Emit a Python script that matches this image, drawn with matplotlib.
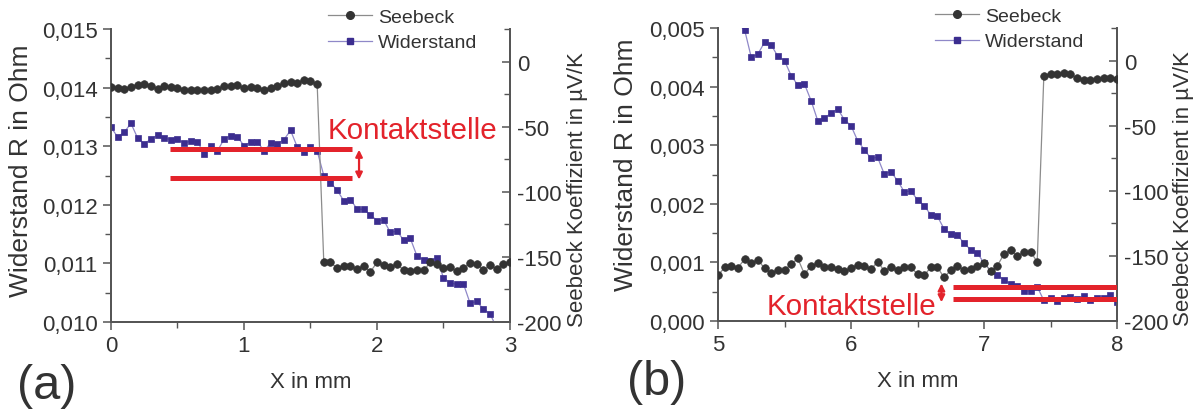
import numpy as np
import matplotlib
matplotlib.use("Agg")
import matplotlib.pyplot as plt
from matplotlib.ticker import FuncFormatter, MultipleLocator
from matplotlib.lines import Line2D

plt.rcParams['font.family'] = ['Liberation Sans', 'DejaVu Sans']
plt.rcParams['axes.unicode_minus'] = False

# ---------------- data ----------------
step = 0.05

# panel (a)
a_seebeck_x0 = 0.0
a_seebeck = [-19.4, -20.2, -20.7, -19.4, -17.9, -17.4, -18.4, -20.7, -18.9, -19.7,
             -20.2, -21.5, -22.0, -22.0, -22.2, -21.7, -20.7, -18.9, -18.7, -18.1,
             -20.2, -19.9, -20.2, -21.5, -20.2, -18.9, -16.4, -15.8, -16.4, -13.8,
             -15.3, -16.9,
             -154.3, -153.8, -158.9, -156.8, -156.8, -159.4, -156.8, -161.4, -154.3,
             -156.3, -157.4, -155.6, -160.2, -161.2, -160.4, -160.4, -154.3, -155.6,
             -158.6, -158.1, -161.2, -158.4, -154.8, -155.1, -160.2, -156.3, -159.4,
             -155.1, -154.3]
a_wider_x0 = 0.0
a_widerstand = [0.01332, 0.01316, 0.01324, 0.01339, 0.01314, 0.01304, 0.01312, 0.01319,
                0.01314, 0.01311, 0.01312, 0.01305, 0.01309, 0.01308, 0.01287, 0.01300,
                0.01292, 0.01312, 0.01318, 0.01316, 0.01301, 0.01307, 0.01308, 0.01292,
                0.01305, 0.01304, 0.01311, 0.01327, 0.01299, 0.01290, 0.01298, 0.01292,
                0.01250, 0.01238, 0.01225, 0.01207, 0.01209, 0.01193, 0.01192, 0.01183,
                0.01173, 0.01174, 0.01153, 0.01155, 0.01140, 0.01143, 0.01113, 0.01106,
                0.01104, 0.01110, 0.01075, 0.01067, 0.01064, 0.01065, 0.01032, 0.01035,
                0.01022, 0.01014, 0.00990]

# panel (b)
b_seebeck_x0 = 5.0
b_seebeck = [-164.8, -158.9, -158.1, -159.1, -152.5, -155.6, -153.0, -159.6, -163.5, -160.7,
             -160.7, -156.3, -152.0, -164.0, -157.6, -155.8, -158.9, -158.9, -160.2, -161.9,
             -159.1, -157.1, -158.1, -160.2, -154.5, -161.4, -158.6, -160.7, -158.9, -158.9,
             -164.0,
             -164.8, -158.9, -158.9, -166.5, -160.9, -157.6, -160.9, -160.2, -157.6, -155.6,
             -161.4, -157.6, -148.7, -145.6, -150.4, -146.9, -146.9, -154.5,
             -11.5, -10.7, -10.2, -9.5, -10.7, -13.3, -14.6, -14.6, -14.0, -13.3, -13.3, -13.8]
b_wider_x0 = 5.15
b_widerstand = [0.00506, 0.00497, 0.00450, 0.004556, 0.004756, 0.00471, 0.004517, 0.004443,
                0.004187, 0.004027, 0.004044, 0.00376, 0.003418, 0.003459, 0.003549, 0.003618,
                0.003436, 0.003333, 0.003077, 0.002923, 0.002776, 0.002793, 0.002509, 0.002548,
                0.002394, 0.002207, 0.002218, 0.00207, 0.001968, 0.001812, 0.001786, 0.00157,
                0.001485, 0.001468, 0.001326, 0.001217, 0.00116, 0.00099, 0.000859, 0.000785,
                0.000705, 0.000631, 0.000603, 0.000506, 0.000517, 0.000586, 0.00035, 0.0004,
                0.00034, 0.0004, 0.00041, 0.00037, 0.00042, 0.00036, 0.0004, 0.00039,
                0.00045, 0.00033]

# annotations (x range, y levels in Ohm)
a_marks_x = [0.44, 1.81]
a_marks_y = [0.01295, 0.01245]
a_arrow_x = 1.865
a_arrow_y = [0.01294, 0.01243]
b_marks_x = [6.77, 8.0]
b_marks_y = [0.000575, 0.000375]
b_arrow_x = 6.68
b_arrow_y = [0.00064, 0.00032]
label_text = "Kontaktstelle"

# ---------------- style ----------------
C_SEE = '#333333'
C_SEE_LINE = '#8c8c8c'
C_WID = '#3b2d8f'
C_WID_LINE = '#8f88c8'
C_RED = '#e3232b'
SPINE = '#555555'

fig = plt.figure(figsize=(12.04, 4.14), dpi=100)

def xs(x0, n):
    return x0 + step * np.arange(n)

def comma(v, pos):
    return f"{v:.3f}".replace('.', ',')

def setup(ax, ax2, xlim, xticks, ylim, yticks):
    ax.set_xlim(*xlim)
    ax.set_ylim(*ylim)
    ax2.set_ylim(-200, 25)
    ax.set_xticks(xticks)
    ax.set_yticks(yticks)
    ax2.set_yticks([-200, -150, -100, -50, 0])
    ax.xaxis.set_minor_locator(MultipleLocator(0.5))
    ax.yaxis.set_minor_locator(MultipleLocator((yticks[1] - yticks[0]) / 2))
    ax2.yaxis.set_minor_locator(MultipleLocator(25))
    ax.yaxis.set_major_formatter(FuncFormatter(comma))
    for a in (ax, ax2):
        a.spines['top'].set_visible(False)
        for s in a.spines.values():
            s.set_color(SPINE)
            s.set_linewidth(1.3)
    ax.tick_params(which='major', direction='out', length=6, width=1.1,
                   color=SPINE, labelsize=16, labelcolor='#333333')
    ax.tick_params(which='minor', direction='out', length=4, width=1.0, color=SPINE)
    ax2.tick_params(which='major', direction='in', length=6, width=1.1, pad=5,
                    color=SPINE, labelsize=16, labelcolor='#333333')
    ax2.tick_params(which='minor', direction='in', length=4, width=1.0, color=SPINE)
    ax.patch.set_visible(False)


def panel(rect, see_x0, see, wid_x0, wid, xlim, xticks, ylim, yticks,
          marks_x, marks_y, arrow_x, arrow_y, text_xy, text_ha, lab_coords, leg_xy, tag_xy, tag):
    ax = fig.add_axes(rect)
    ax2 = ax.twinx()
    setup(ax, ax2, xlim, xticks, ylim, yticks)
    ax.plot(xs(wid_x0, len(wid)), wid, color=C_WID_LINE, lw=0.9, marker='s', ms=5,
            mfc=C_WID, mec=C_WID, mew=0.5, zorder=3)
    ax2.plot(xs(see_x0, len(see)), see, color=C_SEE_LINE, lw=0.9, marker='o', ms=5.5,
             mfc=C_SEE, mec=C_SEE, mew=0.5, zorder=3)
    # red contact markers drawn on top axes using left-axis data coordinates
    for yv in marks_y:
        ax2.plot(marks_x, [yv, yv], color=C_RED, lw=3.6, transform=ax.transData,
                 solid_capstyle='butt', zorder=5)
    ax2.annotate('', xy=(arrow_x, arrow_y[0]), xytext=(arrow_x, arrow_y[1]),
                 xycoords=ax.transData, textcoords=ax.transData,
                 arrowprops=dict(arrowstyle='<|-|>', color=C_RED, lw=1.6,
                                 mutation_scale=10, shrinkA=0, shrinkB=0), zorder=6)
    ax2.text(text_xy[0], text_xy[1], label_text, transform=ax.transData, color=C_RED,
             fontsize=21.3, ha=text_ha, va='baseline', zorder=6)
    ax.set_xlabel('X in mm', fontsize=16, color='#333333')
    ax.set_ylabel('Widerstand R in Ohm', fontsize=19, color='#333333')
    ax2.set_ylabel('Seebeck Koeffizient in µV/K', fontsize=16, color='#333333')
    ax.xaxis.set_label_coords(0.5, lab_coords[0])
    ax.yaxis.set_label_coords(lab_coords[1], lab_coords[2])
    ax2.yaxis.set_label_coords(lab_coords[3], lab_coords[4])
    handles = [Line2D([], [], color=C_SEE_LINE, lw=0.9, marker='o', ms=5.5, mfc=C_SEE, mec=C_SEE),
               Line2D([], [], color=C_WID_LINE, lw=0.9, marker='s', ms=5, mfc=C_WID, mec=C_WID)]
    fig.legend(handles, ['Seebeck', 'Widerstand'], loc='upper left',
               bbox_to_anchor=leg_xy, bbox_transform=fig.transFigure,
               frameon=False, fontsize=14, handlelength=2.27, handletextpad=0.3,
               labelspacing=0.42, borderpad=0, borderaxespad=0, labelcolor='#333333')
    fig.text(tag_xy[0], tag_xy[1], tag, fontsize=35, ha='left', va='center', color='#333333')
    return ax, ax2


W, H = 1204, 414
rect_a = [111 / W, 1 - 323 / H, (510 - 111) / W, (323 - 30) / H]
rect_b = [718 / W, 1 - 322 / H, (1117 - 718) / W, (322 - 29) / H]

panel(rect_a, a_seebeck_x0, a_seebeck, a_wider_x0, a_widerstand,
      (0, 3), [0, 1, 2, 3], (0.010, 0.015), [0.010, 0.011, 0.012, 0.013, 0.014, 0.015],
      a_marks_x, a_marks_y, a_arrow_x, a_arrow_y, (1.63, 0.01314), 'left',
      (-0.167, -0.195, 0.519, 1.143, 0.457), (328 / W, 1 - 9 / H), (17 / W, 1 - 387 / H), '(a)')

panel(rect_b, b_seebeck_x0, b_seebeck, b_wider_x0, b_widerstand,
      (5, 8), [5, 6, 7, 8], (0.0, 0.005), [0.000, 0.001, 0.002, 0.003, 0.004, 0.005],
      b_marks_x, b_marks_y, b_arrow_x, b_arrow_y, (6.645, 0.000115), 'right',
      (-0.167, -0.2005, 0.536, 1.140, 0.454), (935 / W, 1 - 8 / H), (627 / W, 1 - 383 / H), '(b)')

fig.savefig('out.png', dpi=100)
